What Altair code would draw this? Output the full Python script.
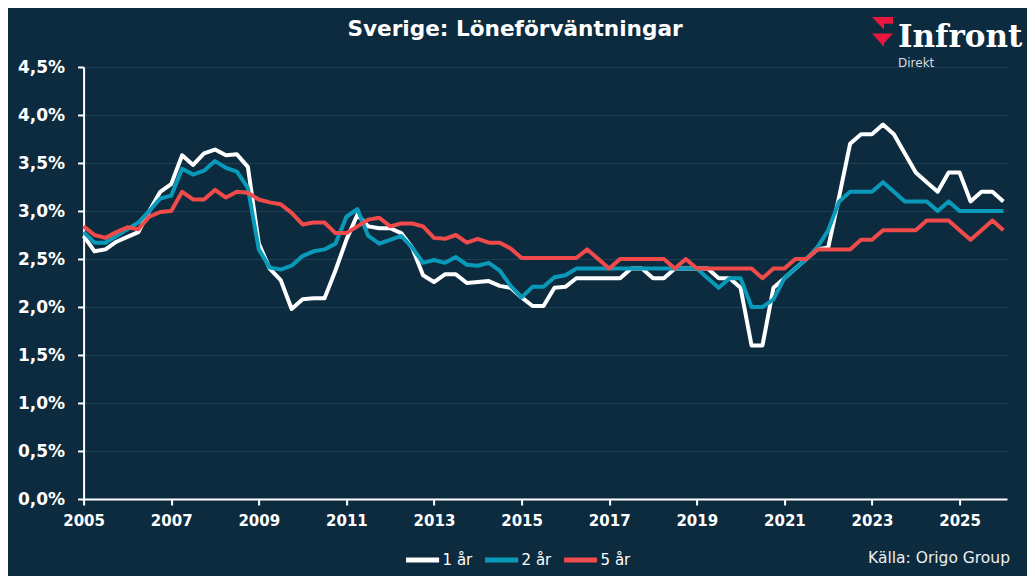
import altair as alt
import pandas as pd

quarters = [f"{2005 + i // 4}Q{i % 4 + 1}" for i in range(85)]

one_yr = [2.74, 2.58, 2.60, 2.68, 2.73, 2.78, 3.00, 3.20, 3.28, 3.58,
          3.48, 3.60, 3.64, 3.58, 3.59, 3.46, 2.66, 2.40, 2.28, 1.98,
          2.08, 2.09, 2.09, 2.38, 2.70, 2.96, 2.84, 2.82, 2.82, 2.77,
          2.62, 2.33, 2.26, 2.34, 2.34, 2.25, 2.26, 2.27, 2.22, 2.20,
          2.10, 2.01, 2.01, 2.20, 2.21, 2.30, 2.30, 2.30, 2.30, 2.30,
          2.40, 2.40, 2.30, 2.30, 2.40, 2.40, 2.40, 2.40, 2.30, 2.30,
          2.20, 1.60, 1.60, 2.20, 2.30, 2.40, 2.50, 2.60, 2.62, 3.15,
          3.70, 3.80, 3.80, 3.90, 3.80, 3.60, 3.40, 3.30, 3.20, 3.40,
          3.40, 3.10, 3.20, 3.20, 3.10]

two_yr = [2.78, 2.67, 2.67, 2.74, 2.81, 2.88, 3.00, 3.13, 3.16, 3.44,
          3.38, 3.42, 3.52, 3.45, 3.41, 3.24, 2.60, 2.41, 2.39, 2.43,
          2.53, 2.58, 2.60, 2.66, 2.94, 3.02, 2.74, 2.66, 2.70, 2.74,
          2.62, 2.46, 2.49, 2.46, 2.52, 2.44, 2.43, 2.46, 2.38, 2.22,
          2.10, 2.21, 2.21, 2.31, 2.33, 2.40, 2.40, 2.40, 2.40, 2.40,
          2.40, 2.40, 2.40, 2.40, 2.40, 2.40, 2.40, 2.30, 2.20, 2.30,
          2.30, 2.00, 2.00, 2.08, 2.30, 2.40, 2.50, 2.62, 2.80, 3.10,
          3.20, 3.20, 3.20, 3.30, 3.20, 3.10, 3.10, 3.10, 3.00, 3.10,
          3.00, 3.00, 3.00, 3.00, 3.00]

five_yr = [2.84, 2.75, 2.72, 2.78, 2.83, 2.81, 2.94, 2.99, 3.00, 3.20,
           3.12, 3.12, 3.22, 3.14, 3.20, 3.19, 3.12, 3.09, 3.07, 2.98,
           2.86, 2.88, 2.88, 2.77, 2.77, 2.84, 2.91, 2.93, 2.84, 2.87,
           2.87, 2.84, 2.72, 2.71, 2.75, 2.67, 2.71, 2.67, 2.67, 2.61,
           2.51, 2.51, 2.51, 2.51, 2.51, 2.51, 2.60, 2.50, 2.40, 2.50,
           2.50, 2.50, 2.50, 2.50, 2.40, 2.50, 2.40, 2.40, 2.40, 2.40,
           2.40, 2.40, 2.30, 2.40, 2.40, 2.50, 2.50, 2.60, 2.60, 2.60,
           2.60, 2.70, 2.70, 2.80, 2.80, 2.80, 2.80, 2.90, 2.90, 2.90,
           2.80, 2.70, 2.80, 2.90, 2.80]

series_names = ["1 år", "2 år", "5 år"]
series_colors = ["#ffffff", "#0a9ab9", "#f04a4a"]
x_tick_idx = [0, 8, 16, 24, 32, 40, 48, 56, 64, 72, 80]
y_ticks = [0, 0.5, 1.0, 1.5, 2.0, 2.5, 3.0, 3.5, 4.0, 4.5]

rows = []
for name, vals in zip(series_names, [one_yr, two_yr, five_yr]):
    for i, (q, v) in enumerate(zip(quarters, vals)):
        rows.append({"idx": i, "quarter": q, "serie": name, "value": v, "order": series_names.index(name)})
df = pd.DataFrame(rows)

BG = "#0c2b3f"
FONT = "DejaVu Sans"

lines = alt.Chart(df).mark_line(strokeWidth=4, strokeJoin="round").encode(
    x=alt.X("idx:Q",
            scale=alt.Scale(domain=[0, 84.33], nice=False, zero=False),
            axis=alt.Axis(values=x_tick_idx, labelExpr="toString(2005 + datum.value / 4)",
                          title=None, grid=False, domainColor="white", domainWidth=2,
                          tickColor="white", tickWidth=2, tickSize=6, labelPadding=8,
                          labelColor="white", labelFont=FONT, labelFontSize=15,
                          labelFontWeight="bold", labelFlush=False)),
    y=alt.Y("value:Q",
            scale=alt.Scale(domain=[0, 4.5], nice=False),
            axis=alt.Axis(values=y_ticks,
                          labelExpr="replace(format(datum.value, '.1f'), '.', ',') + '%'",
                          title=None, grid=True, gridColor="#1d3e54", gridWidth=1,
                          domainColor="white", domainWidth=2, tickColor="white",
                          tickWidth=2, tickSize=6, labelPadding=13, labelColor="white",
                          labelFont=FONT, labelFontSize=17, labelFontWeight="bold")),
    color=alt.Color("serie:N",
                    scale=alt.Scale(domain=series_names, range=series_colors),
                    legend=alt.Legend(title=None, orient="none", direction="horizontal",
                                      legendX=320, legendY=474, symbolType="stroke",
                                      symbolSize=1089, symbolStrokeWidth=5,
                                      labelOffset=1, columnPadding=2, padding=0,
                                      labelColor="white", labelFont=FONT,
                                      labelFontSize=15)),
    order=alt.Order("order:Q"),
    detail="serie:N",
)

def text_layer(label, x, y, size, weight="normal", align="left", font=FONT, color="white"):
    return alt.Chart(pd.DataFrame({"t": [label]})).mark_text(
        align=align, baseline="alphabetic", font=font, fontSize=size,
        fontWeight=weight, color=color
    ).encode(text="t:N", x=alt.value(x), y=alt.value(y))

title = text_layer("Sverige: Löneförväntningar", 431.4, -31, 21.6, "bold", "center")
logo_text = text_layer("Infront", 814.4, -20, 31, "bold", "left", "DejaVu Serif")
logo_sub = text_layer("Direkt", 814.4, 0, 12, "normal", "left", FONT, "#d5dbe0")
source = text_layer("Källa:  Origo Group", 926.4, 496, 15.5, "normal", "right", FONT, "#eeeeee")

emblem_path = ("M -0.7 -1 L 0.1 -1 L 0.1 -0.15 Z "
               "M 0.1 -1 L 0.7 -1 L 0.7 -0.55 L 0.1 -0.55 Z "
               "M -0.7 0.1 L 0.1 0.1 L 0.1 1 Z "
               "M 0.1 0.1 L 0.7 0.1 L 0.1 0.75 Z")
emblem = alt.Chart(pd.DataFrame({"t": [1]})).mark_point(
    shape=emblem_path, filled=True, fill="#e8173f", strokeWidth=0, size=900, opacity=1
).encode(x=alt.value(798.9), y=alt.value(-35))

chart = alt.layer(lines, title, logo_text, logo_sub, source, emblem).properties(
    width=923.4, height=432,
    autosize=alt.AutoSizeParams(type="none"),
    padding={"left": 75.6, "top": 59, "right": 20, "bottom": 77},
    background=BG,
).configure_view(stroke=None)

chart.save("out.html", embed_options={"renderer": "svg", "actions": False})
